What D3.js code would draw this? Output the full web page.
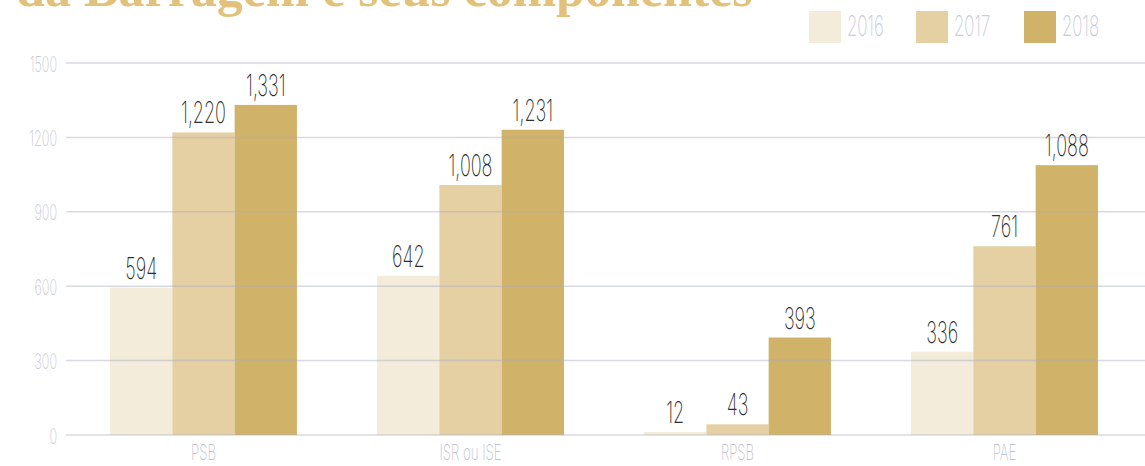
<!DOCTYPE html>
<html>
<head>
<meta charset="utf-8">
<script src="https://cdn.jsdelivr.net/npm/d3@7"></script>
<style>
  html, body { margin: 0; padding: 0; background: #fff; }
  svg { display: block; }
</style>
</head>
<body>
<svg id="chart" width="1145" height="466"></svg>
<script>
// Data
const categories = ["PSB", "ISR ou ISE", "RPSB", "PAE"];
const years = ["2016", "2017", "2018"];
const values2016 = [594, 642, 12, 336];
const values2017 = [1220, 1008, 43, 761];
const values2018 = [1331, 1231, 393, 1088];
const yTicks = [0, 300, 600, 900, 1200, 1500];
const titleText = "da Barragem e seus componentes";

const seriesValues = [values2016, values2017, values2018];
const colors = ["#f3ecda", "#e5d0a4", "#d0b268"];

const FONT = "Inter, 'DejaVu Sans', sans-serif";
const SQUEEZE = 0.6; // horizontal compression for a condensed look

const svg = d3.select("#chart");
const W = 1145;
const plotTop = 63, plotBottom = 435;

const x = d3.scaleBand().domain(categories).range([70, 1138])
  .paddingInner(0.3).paddingOuter(0.15);
const xs = d3.scaleBand().domain(years).range([0, x.bandwidth()]);
const y = d3.scaleLinear().domain([0, 1500]).range([plotBottom, plotTop]);

// Condensed text: draw at (px, py) squeezed horizontally around its anchor
function condensed(sel, px, py) {
  return sel.attr("x", 0).attr("y", 0)
    .attr("transform", `translate(${px},${py}) scale(${SQUEEZE},1)`);
}

// Title (runs above the canvas edge)
svg.append("text")
  .attr("x", 16).attr("y", 6)
  .attr("font-family", "Liberation Serif, serif")
  .attr("font-weight", "bold")
  .attr("font-size", 52)
  .attr("fill", "#e2c27a")
  .text(titleText);

// Legend
const legendX = [809, 916, 1024];
years.forEach((yr, i) => {
  const g = svg.append("g").attr("transform", `translate(${legendX[i]},11)`);
  g.append("rect").attr("width", 32).attr("height", 32).attr("fill", colors[i]);
  g.append("text")
    .attr("font-family", FONT).attr("font-weight", 200)
    .attr("font-size", 28).attr("fill", "#c8ccd8")
    .call(condensed, 38, 25)
    .text(yr);
});

// Bars
const groups = svg.append("g").selectAll("g")
  .data(categories)
  .join("g")
  .attr("transform", d => `translate(${x(d)},0)`);

groups.selectAll("rect")
  .data((d, ci) => years.map((yr, si) => ({ yr, v: seriesValues[si][ci], si })))
  .join("rect")
  .attr("x", d => xs(d.yr))
  .attr("width", xs.bandwidth())
  .attr("y", d => y(d.v))
  .attr("height", d => plotBottom - y(d.v))
  .attr("fill", d => colors[d.si]);

// Y axis labels
const yAxis = d3.axisLeft(y).tickValues(yTicks).tickSize(0).tickPadding(0).tickFormat(d3.format("d"));
const ya = svg.append("g").attr("transform", "translate(57,0)").call(yAxis);
ya.select(".domain").remove();
ya.selectAll("text")
  .attr("font-family", FONT).attr("font-weight", 200)
  .attr("font-size", 21).attr("fill", "#c5c9d6").attr("dy", null)
  .call(condensed, 0, 8);

// Grid lines drawn over the bars, semi-transparent
svg.append("g").selectAll("line")
  .data(yTicks)
  .join("line")
  .attr("x1", 66).attr("x2", W)
  .attr("y1", d => y(d)).attr("y2", d => y(d))
  .attr("stroke", "#a9aebf").attr("stroke-opacity", 0.45).attr("stroke-width", 1.5);

// Value labels
groups.selectAll("text.val")
  .data((d, ci) => years.map((yr, si) => ({ yr, v: seriesValues[si][ci] })))
  .join("text")
  .attr("class", "val")
  .attr("text-anchor", "middle")
  .attr("font-family", FONT).attr("font-weight", 200)
  .attr("font-size", 30).attr("fill", "#2e2e2e")
  .each(function (d) {
    d3.select(this).call(condensed, xs(d.yr) + xs.bandwidth() / 2, y(d.v) - 9);
  })
  .text(d => d3.format(",")(d.v));

// Category labels
const xAxis = d3.axisBottom(x).tickSize(0).tickPadding(0);
const xa = svg.append("g").attr("transform", `translate(0,${plotBottom})`).call(xAxis);
xa.select(".domain").remove();
xa.selectAll("text")
  .attr("font-family", FONT).attr("font-weight", 200)
  .attr("font-size", 22).attr("fill", "#c0c4d2").attr("dy", null)
  .call(condensed, 0, 25);
</script>
</body>
</html>
